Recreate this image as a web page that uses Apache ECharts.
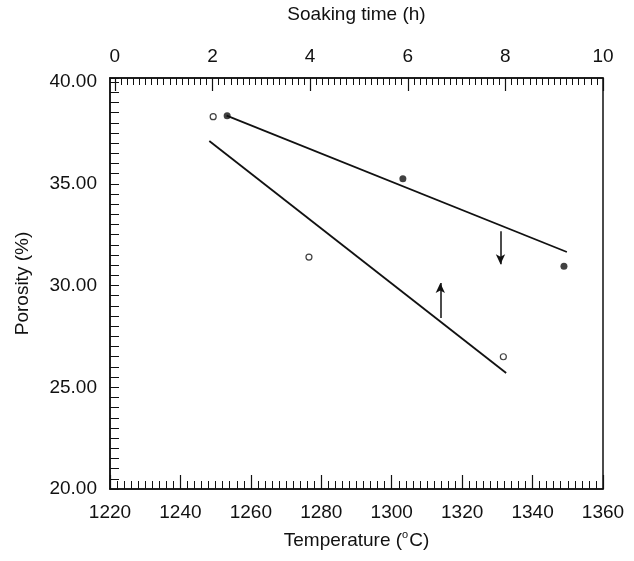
<!DOCTYPE html>
<html>
<head>
<meta charset="utf-8">
<script src="https://cdn.jsdelivr.net/npm/echarts@6/dist/echarts.min.js"></script>
<style>
  html, body { margin: 0; padding: 0; background: #fff; }
  #chart { width: 634px; height: 561px; }
</style>
</head>
<body>
<div id="chart"></div>
<script>
// open circles: porosity against temperature (bottom axis)
const tempC = [1249.3, 1276.5, 1331.7];
const porosityByTemp = [38.3, 31.4, 26.5];
// filled circles: porosity against soaking time (top axis)
const soakH = [2.3, 5.9, 9.2];
const porosityBySoak = [38.35, 35.25, 30.95];

// fitted lines (end points)
const tempFitX = [1248.2, 1332.5];
const tempFitY = [37.1, 25.7];
const soakFitX = [2.29, 9.26];
const soakFitY = [38.35, 31.65];

// arrows: [x, yFrom, yTo]
const arrowSoak = [7.9, 32.67, 31.05];
const arrowTemp = [1313.8, 28.41, 30.12];

const soakLabels = [0, 2, 4, 6, 8, 10];
const soakMajorTicks = [0, 2, 4, 6, 8, 10];

const FONT = 'Liberation Sans, Arial, sans-serif';
const INK = '#111';

// minor ticks on the top axis every 1/8 h
const soakMinorTicks = [];
for (let i = 0; i <= 80; i++) soakMinorTicks.push(i / 8);

const chart = echarts.init(document.getElementById('chart'), null, { renderer: 'canvas' });

const labelStyle = { color: INK, fontSize: 19, fontFamily: FONT };

chart.setOption({
  animation: false,
  backgroundColor: '#fff',
  grid: {
    left: 110, right: 31, top: 76, bottom: 72,
    show: true, borderColor: INK, borderWidth: 1.5, backgroundColor: 'transparent'
  },
  xAxis: [
    {
      // bottom: temperature
      type: 'value', position: 'bottom', min: 1220, max: 1360, interval: 2,
      name: 'Temperature ({sup|o}C)', nameLocation: 'middle', nameGap: 40,
      nameTextStyle: {
        color: INK, fontSize: 19, fontFamily: FONT,
        rich: { sup: { fontSize: 11, fontFamily: FONT, color: INK, padding: [0, 1, 12, 0] } }
      },
      axisLine: { show: true, onZero: false, lineStyle: { color: INK, width: 1.5 } },
      axisTick: { show: true, inside: true, length: 8, lineStyle: { color: INK, width: 1 } },
      axisLabel: Object.assign({ margin: 14, formatter: v => (v % 20 === 0 ? String(v) : '') }, labelStyle),
      splitLine: { show: false }
    },
    {
      // top: soaking time
      type: 'value', position: 'top', min: -0.1, max: 10,
      name: 'Soaking time (h)', nameLocation: 'middle', nameGap: 54,
      nameTextStyle: { color: INK, fontSize: 19, fontFamily: FONT },
      axisLine: { show: true, onZero: false, lineStyle: { color: INK, width: 1.5 } },
      axisTick: { show: true, inside: true, length: 7, customValues: soakMinorTicks, lineStyle: { color: INK, width: 1 } },
      axisLabel: Object.assign({ margin: 12, customValues: soakLabels }, labelStyle),
      splitLine: { show: false }
    },
    {
      // bottom major ticks
      type: 'value', position: 'bottom', min: 1220, max: 1360, interval: 20,
      axisLine: { show: false, onZero: false },
      axisTick: { show: true, inside: true, length: 14, lineStyle: { color: INK, width: 1.2 } },
      axisLabel: { show: false },
      splitLine: { show: false }
    },
    {
      // top major ticks
      type: 'value', position: 'top', min: -0.1, max: 10,
      axisLine: { show: false, onZero: false },
      axisTick: { show: true, inside: true, length: 13, customValues: soakMajorTicks, lineStyle: { color: INK, width: 1.2 } },
      axisLabel: { show: false },
      splitLine: { show: false }
    }
  ],
  yAxis: [
    {
      type: 'value', position: 'left', min: 20, max: 40.2, interval: 0.5,
      name: 'Porosity (%)', nameLocation: 'middle', nameGap: 78,
      nameTextStyle: { color: INK, fontSize: 19, fontFamily: FONT },
      axisLine: { show: true, onZero: false, lineStyle: { color: INK, width: 1.5 } },
      axisTick: { show: true, inside: true, length: 9, lineStyle: { color: INK, width: 1 } },
      axisLabel: Object.assign({ margin: 13, formatter: v => (v % 5 === 0 ? v.toFixed(2) : '') }, labelStyle),
      splitLine: { show: false }
    }
  ],
  series: [
    {
      name: 'fit temperature', type: 'line', xAxisIndex: 0,
      data: tempFitX.map((x, i) => [x, tempFitY[i]]),
      showSymbol: false, symbol: 'none',
      lineStyle: { color: INK, width: 1.8 },
      markLine: {
        silent: true, symbol: ['none', 'arrow'], symbolSize: [7, 10],
        label: { show: false },
        lineStyle: { color: INK, width: 1.5, type: 'solid' },
        data: [[{ coord: [arrowTemp[0], arrowTemp[1]] }, { coord: [arrowTemp[0], arrowTemp[2]] }]]
      }
    },
    {
      name: 'fit soaking', type: 'line', xAxisIndex: 1,
      data: soakFitX.map((x, i) => [x, soakFitY[i]]),
      showSymbol: false, symbol: 'none',
      lineStyle: { color: INK, width: 1.8 },
      markLine: {
        silent: true, symbol: ['none', 'arrow'], symbolSize: [7, 10],
        label: { show: false },
        lineStyle: { color: INK, width: 1.5, type: 'solid' },
        data: [[{ coord: [arrowSoak[0], arrowSoak[1]] }, { coord: [arrowSoak[0], arrowSoak[2]] }]]
      }
    },
    {
      name: 'temperature', type: 'scatter', xAxisIndex: 0,
      data: tempC.map((x, i) => [x, porosityByTemp[i]]),
      symbol: 'circle', symbolSize: 6,
      itemStyle: { color: '#fff', borderColor: INK, borderWidth: 1.2 }
    },
    {
      name: 'soaking time', type: 'scatter', xAxisIndex: 1,
      data: soakH.map((x, i) => [x, porosityBySoak[i]]),
      symbol: 'circle', symbolSize: 7,
      itemStyle: { color: INK }
    }
  ]
});
</script>
</body>
</html>
